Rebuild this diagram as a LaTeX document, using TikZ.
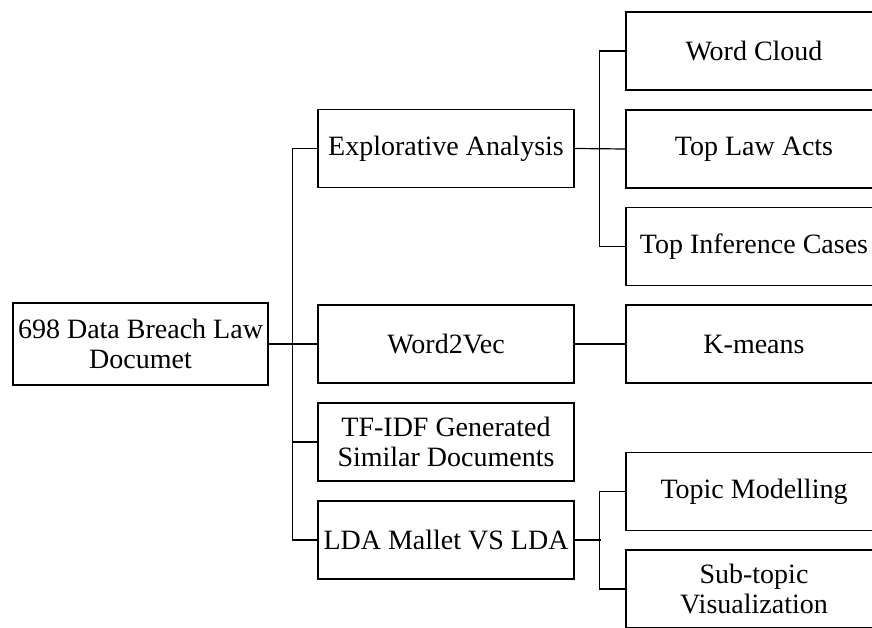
\documentclass[tikz,border=0pt]{standalone}
\usepackage{fontspec}
\setmainfont{Liberation Serif}
\usetikzlibrary{positioning}

\begin{document}
\begin{tikzpicture}[x=1pt, y=-1pt, line width=1.2pt,
    box/.style={draw, rectangle, align=center, inner sep=0pt, font=\fontsize{28}{29.5}\selectfont},
    rootbox/.style={box, minimum width=255pt, minimum height=82pt},
    midbox/.style={box, minimum width=256pt, minimum height=78pt},
    leafbox/.style={box, minimum width=256pt, minimum height=78pt}]
    \useasboundingbox (0,0) rectangle (872,628);

    % root
    \node[rootbox] (root) at (140.5,344) {698 Data Breach Law\\Documet};

    % middle column
    \node[midbox] (expl) at (446,148.5) {Explorative Analysis};
    \node[midbox] (w2v) at (446,344) {Word2Vec};
    \node[midbox] (tfidf) at (446,442) {TF-IDF Generated\\Similar Documents};
    \node[midbox] (lda) at (446,540) {LDA Mallet VS LDA};

    % right column
    \node[leafbox] (wc) at (754,51) {Word Cloud};
    \node[leafbox] (tla) at (754,149) {Top Law Acts};
    \node[leafbox] (tic) at (754,246.5) {Top Inference Cases};
    \node[leafbox] (km) at (754,344) {K-means};
    \node[leafbox] (tm) at (754,491.5) {Topic Modelling};
    \node[leafbox] (sv) at (754,589) {Sub-topic\\Visualization};

    % connectors
    \draw (root.east) -- (w2v.west);
    \draw (expl.west) -- ++(-25,0) |- (lda.west);
    \draw (tfidf.west) -- ++(-25,0);

    \draw (expl.east) -- (tla.west);
    \draw (wc.west) -- ++(-26,0) |- (tic.west);

    \draw (w2v.east) -- (km.west);

    \draw (lda.east) -- ++(26,0);
    \draw (tm.west) -- ++(-26,0) |- (sv.west);
\end{tikzpicture}
\end{document}
